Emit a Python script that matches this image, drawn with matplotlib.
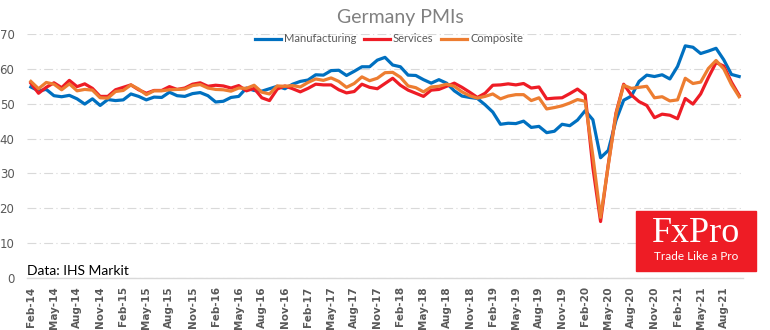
import matplotlib
matplotlib.use("Agg")
import matplotlib.pyplot as plt
from matplotlib.patches import Rectangle

# monthly Germany PMI readings, Feb-14 .. Oct-21
manufacturing = [
    54.8, 53.7, 54.1, 52.3, 52.0, 52.4, 51.4, 49.9, 51.4, 49.5, 51.2,
    50.9, 51.1, 52.8, 52.1, 51.1, 51.9, 51.8, 53.3, 52.3, 52.1, 52.9, 53.2,
    52.3, 50.5, 50.7, 51.8, 52.1, 54.5, 53.8, 53.6, 54.3, 55.0, 54.3, 55.6,
    56.4, 56.8, 58.3, 58.2, 59.5, 59.6, 58.1, 59.3, 60.6, 60.6, 62.5, 63.3,
    61.1, 60.6, 58.2, 58.1, 56.9, 55.9, 56.9, 55.9, 53.7, 52.2, 51.8, 51.5,
    49.7, 47.6, 44.1, 44.4, 44.3, 45.0, 43.2, 43.5, 41.7, 42.1, 44.1, 43.7,
    45.3, 48.0, 45.4, 34.5, 36.6, 45.2, 51.0, 52.2, 56.4, 58.2, 57.8, 58.3,
    57.1, 60.7, 66.6, 66.2, 64.4, 65.1, 65.9, 62.6, 58.4, 57.8,
]
services = [
    55.9, 53.0, 54.7, 56.0, 54.6, 56.7, 54.9, 55.7, 54.4, 52.1, 52.1,
    54.0, 54.7, 55.4, 54.0, 53.0, 53.8, 53.8, 54.9, 54.1, 54.5, 55.6, 56.0,
    55.0, 55.3, 55.1, 54.5, 55.2, 53.7, 54.4, 51.7, 50.9, 54.2, 55.1, 54.3,
    53.4, 54.4, 55.6, 55.4, 55.4, 54.0, 53.1, 53.5, 55.6, 54.7, 54.3, 55.8,
    57.3, 55.3, 53.9, 53.0, 52.1, 53.9, 54.1, 55.0, 55.9, 54.7, 53.3, 51.8,
    53.0, 55.3, 55.4, 55.7, 55.4, 55.8, 54.5, 54.8, 51.4, 51.6, 51.7, 52.9,
    54.2, 52.5, 31.7, 16.2, 32.6, 47.3, 55.6, 52.5, 50.6, 49.5, 46.0, 47.0,
    46.7, 45.7, 51.5, 49.9, 52.8, 57.5, 61.8, 60.8, 56.2, 52.4,
]
composite = [
    56.4, 54.3, 56.1, 55.6, 54.0, 55.7, 53.7, 54.1, 53.9, 51.7, 51.6,
    53.5, 53.8, 55.4, 54.2, 52.6, 53.7, 53.7, 54.0, 54.1, 54.2, 55.2, 55.5,
    54.5, 54.1, 54.0, 53.6, 54.5, 54.4, 55.3, 53.3, 52.8, 55.1, 55.0, 55.2,
    54.8, 56.1, 57.1, 56.7, 57.4, 56.4, 54.7, 55.8, 57.7, 56.6, 57.3, 58.9,
    59.0, 57.6, 55.1, 54.6, 53.4, 54.8, 55.0, 55.6, 55.0, 53.4, 52.3, 51.6,
    52.1, 52.8, 51.4, 52.2, 52.6, 52.6, 50.9, 51.7, 48.5, 48.9, 49.4, 50.2,
    51.2, 50.7, 35.0, 17.4, 32.3, 47.0, 55.3, 54.4, 54.7, 55.0, 51.7, 52.0,
    50.8, 51.1, 57.3, 55.8, 56.2, 60.1, 62.4, 60.0, 55.5, 52.0,
]

months = ["Jan", "Feb", "Mar", "Apr", "May", "Jun",
          "Jul", "Aug", "Sep", "Oct", "Nov", "Dec"]
# month labels from Feb-14 onwards
labels = []
for i in range(len(manufacturing)):
    m = (1 + i) % 12
    y = 14 + (1 + i) // 12
    labels.append("%s-%d" % (months[m], y))

x = list(range(len(manufacturing)))
grey = "#595959"

fig = plt.figure(figsize=(7.7, 3.3), dpi=100)
ax = fig.add_axes([27 / 770, 1 - 278 / 330, (743 - 27) / 770, (278 - 34) / 330])

ax.plot(x, manufacturing, color="#0070C0", lw=2.3, label="Manufacturing", solid_joinstyle="round")
ax.plot(x, services, color="#EE1C25", lw=2.3, label="Services", solid_joinstyle="round")
ax.plot(x, composite, color="#ED7D31", lw=2.3, label="Composite", solid_joinstyle="round")

ax.set_xlim(-0.5, len(x) - 0.5)
ax.set_ylim(0, 70)
ax.set_yticks(range(0, 71, 10))
ax.grid(axis="y", color="#d9d9d9", lw=0.8, linestyle=(0, (8, 3, 1, 3)))
ax.set_axisbelow(True)
for s in ["top", "right", "left"]:
    ax.spines[s].set_visible(False)
ax.spines["bottom"].set_color("#d9d9d9")
ax.spines["bottom"].set_linewidth(1.0)

ax.set_xticks(x[::3])
ax.set_xticklabels(labels[::3], rotation=90, fontsize=7.5, fontweight="bold", color=grey)
ax.tick_params(axis="x", length=0, pad=6)
ax.tick_params(axis="y", length=0, pad=9, labelsize=8.5, labelcolor=grey)

fig.text(400 / 770, 1 - 17 / 330, "Germany PMIs", ha="center", va="center",
         fontsize=14, color="#808080", family="Lato")

ax.legend(loc="center", bbox_to_anchor=(389 / 770, 1 - 39 / 330),
          bbox_transform=fig.transFigure, ncol=3, frameon=False,
          labelcolor=grey, handlelength=2.3, handletextpad=0.3,
          columnspacing=0.7, borderpad=0, prop={"family": "Lato", "size": 8})

fig.text(27 / 770, 1 - 271 / 330, "Data: IHS Markit", ha="left", va="center",
         fontsize=10, color="black", family="Lato")

# FxPro badge
fig.patches.append(Rectangle((636 / 770, 1 - 271 / 330), 120 / 770, 60 / 330,
                             transform=fig.transFigure, color="#EE1C25", zorder=5))
fig.text(696 / 770, 1 - 233 / 330, "FxPro", ha="center", va="center", fontsize=26,
         color="white", family="Liberation Serif", zorder=6)
fig.text(696 / 770, 1 - 257 / 330, "Trade Like a Pro", ha="center", va="center",
         fontsize=8.5, color="white", family="Lato", zorder=6)

fig.savefig("out.png", dpi=100)
